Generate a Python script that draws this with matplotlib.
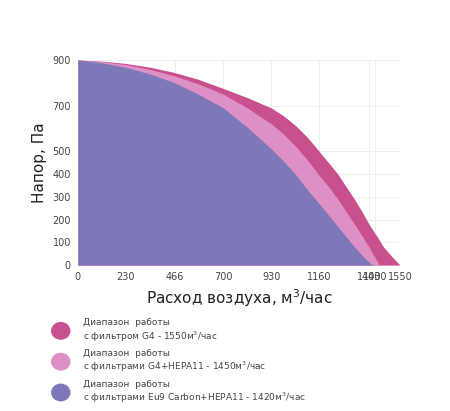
import matplotlib
matplotlib.use("Agg")
import matplotlib.pyplot as plt

x_ticks = [0, 230, 466, 700, 930, 1160, 1400, 1430, 1550]
y_ticks = [0, 100, 200, 300, 400, 500, 700, 900]

g4_x = [0, 115, 230, 350, 466, 580, 700, 815, 930, 990, 1050, 1105, 1160, 1210, 1250, 1290, 1330, 1370, 1400, 1440, 1470, 1510, 1550]
g4_y = [900, 895, 885, 868, 845, 815, 775, 735, 690, 655, 610, 560, 500, 445, 400, 345, 290, 230, 180, 125, 80, 38, 0]
hepa_x = [0, 115, 230, 350, 466, 580, 700, 815, 930, 990, 1050, 1105, 1160, 1210, 1250, 1290, 1330, 1370, 1400, 1425, 1450]
hepa_y = [900, 893, 880, 858, 830, 795, 750, 690, 620, 575, 520, 460, 395, 340, 290, 235, 180, 125, 80, 40, 0]
carbon_x = [0, 115, 230, 350, 466, 580, 700, 815, 930, 990, 1050, 1105, 1160, 1210, 1250, 1290, 1330, 1360, 1380, 1400, 1420]
carbon_y = [900, 888, 868, 838, 800, 750, 690, 605, 510, 455, 395, 330, 270, 215, 170, 125, 80, 50, 30, 13, 0]

labels = ["Диапазон  работы\nс фильтром G4 - 1550м$^3$/час",
          "Диапазон  работы\nс фильтрами G4+HEPA11 - 1450м$^3$/час",
          "Диапазон  работы\nс фильтрами Eu9 Carbon+HEPA11 - 1420м$^3$/час"]
colors = ["#c9508f", "#dd90c4", "#7d78b8"]

fig = plt.figure(figsize=(4.5, 4.11), dpi=100)
ax = fig.add_axes([0.173, 0.355, 0.716, 0.499])
for xs, ys, c in [(g4_x, g4_y, colors[0]), (hepa_x, hepa_y, colors[1]), (carbon_x, carbon_y, colors[2])]:
    ax.fill_between(xs, ys, 0, color=c, lw=0)
ax.set_xlim(0, 1550)
ax.set_ylim(0, 900)
ax.set_xticks(x_ticks)
ax.set_yticks(y_ticks)
ax.tick_params(labelsize=7, colors="#444444", length=0, pad=5)
ax.grid(color="#ececec", lw=0.6)
ax.set_axisbelow(True)
for s in ax.spines.values():
    s.set_visible(False)
ax.set_ylabel("Напор, Па", fontsize=11, color="#222222")
ax.set_xlabel("Расход воздуха, м$^3$/час", fontsize=11, color="#222222")

for i, (lab, c) in enumerate(zip(labels, colors)):
    y = 0.195 - i * 0.075
    fig.patches.append(plt.Circle((0.135, y), 0.02, transform=fig.transFigure, color=c))
    fig.text(0.185, y, lab, fontsize=6.5, color="#444444", va="center")

fig.savefig("out.png", dpi=100)
